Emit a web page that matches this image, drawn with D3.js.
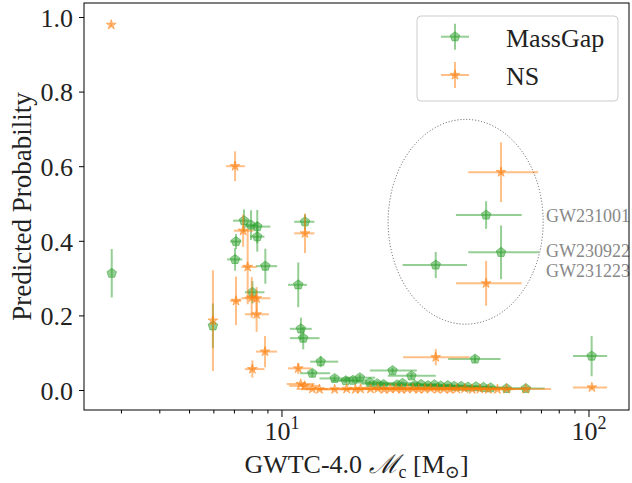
<!DOCTYPE html>
<html lang="en">
<head>
<meta charset="UTF-8">
<title>Predicted probability vs chirp mass</title>
<style>
  body { margin: 0; background: #fff; }
  svg { display: block; }
  text { font-family: "Liberation Serif", "DejaVu Serif", serif; fill: #222; }
</style>
</head>
<body>
<svg width="632" height="483"></svg>
<script src="https://d3js.org/d3.v7.min.js"></script>
<script>
// MassGap (green): chirp mass, lower / upper mass bound, probability, probability error
var mgMc   = [2.80, 5.98, 7.55, 7.96, 8.34, 8.34, 7.11, 7.06, 8.86, 8.04, 11.34, 11.93, 11.57, 11.77, 13.42, 12.6,
              14.9, 16.2, 17.1, 18.0, 19.4, 20.5, 21.5, 23.0, 23.8, 24.8, 26.5, 27.2, 28.5, 30.0, 31.5, 33.0,
              34.8, 36.5, 38.5, 40.5, 43.0, 45.5, 48.0, 54.1, 62.5, 42.7, 102.4, 46.4, 51.9, 31.8];
var mgMcLo = [2.80, 5.98, 6.95, 7.6, 7.6, 7.9, 6.8, 6.65, 8.26, 7.6, 10.5, 11.0, 10.65, 10.65, 12.4, 11.5,
              13.3, 14.5, 15.4, 16.1, 17.2, 18.2, 19.0, 19.4, 21.0, 21.8, 22.2, 24.0, 25.0, 26.4, 27.6, 29.0,
              30.6, 32.0, 33.8, 35.5, 37.8, 40.0, 42.0, 47.0, 54.0, 34.9, 89.0, 37.0, 40.6, 24.8];
var mgMcHi = [2.80, 5.98, 7.9, 8.3, 9.2, 8.8, 7.4, 7.45, 9.68, 8.8, 12.1, 12.8, 12.55, 13.3, 15.3, 14.4,
              16.7, 18.0, 19.0, 20.2, 21.8, 23.0, 24.3, 27.6, 27.0, 28.2, 31.8, 30.8, 32.4, 34.0, 35.8, 37.5,
              39.5, 41.5, 43.8, 46.0, 49.0, 52.0, 55.0, 62.0, 72.0, 51.7, 115.0, 60.6, 69.0, 40.2];
var mgP    = [0.313, 0.172, 0.454, 0.442, 0.438, 0.411, 0.398, 0.350, 0.332, 0.262, 0.282, 0.451, 0.164, 0.139, 0.076, 0.045,
              0.031, 0.025, 0.026, 0.033, 0.020, 0.017, 0.015, 0.052, 0.014, 0.018, 0.038, 0.013, 0.015, 0.012, 0.014, 0.011,
              0.012, 0.010, 0.010, 0.008, 0.009, 0.007, 0.006, 0.004, 0.004, 0.083, 0.091, 0.469, 0.369, 0.335];
var mgPErr = [0.065, 0.060, 0.030, 0.040, 0.045, 0.040, 0.020, 0.030, 0.047, 0.030, 0.060, 0.020, 0.030, 0.030, 0.015, 0.010,
              0.008, 0.006, 0.006, 0.008, 0.005, 0.005, 0.004, 0.008, 0.004, 0.005, 0.008, 0.004, 0.004, 0.004, 0.004, 0.003,
              0.003, 0.003, 0.003, 0.003, 0.003, 0.002, 0.002, 0.002, 0.002, 0.010, 0.054, 0.037, 0.072, 0.035];

// NS (orange)
var nsMc   = [2.79, 5.98, 7.06, 7.5, 11.93, 7.76, 7.11, 8.0, 8.3, 8.3, 8.84, 8.04, 11.34,
              11.55, 11.9, 12.6, 13.3, 14.9, 16.3, 17.4, 18.1, 19.5, 20.6, 21.6, 22.6, 23.6, 24.6, 25.7, 26.8,
              28.0, 29.3, 30.6, 32.2, 33.8, 35.4, 37.2, 39.5, 41.8, 44.3, 47.2, 50.5, 54.1, 62.5, 31.8, 102.6, 51.9, 46.4];
var nsMcLo = [2.79, 5.98, 6.6, 7.0, 11.0, 7.4, 6.8, 7.6, 7.4, 7.6, 8.26, 7.6, 10.5,
              10.4, 10.6, 11.2, 11.8, 13.2, 14.5, 15.5, 16.1, 17.3, 18.3, 19.2, 20.0, 20.9, 21.8, 22.7, 23.7,
              24.7, 25.9, 27.0, 28.4, 29.8, 31.2, 32.8, 34.8, 36.8, 39.0, 41.5, 44.4, 47.6, 55.0, 24.9, 89.0, 40.6, 37.0];
var nsMcHi = [2.79, 5.98, 7.6, 8.1, 12.8, 8.3, 7.4, 8.4, 9.2, 9.1, 9.68, 8.8, 12.5,
              12.8, 13.3, 14.2, 15.0, 16.8, 18.3, 19.5, 20.3, 21.9, 23.1, 24.3, 25.4, 26.6, 27.8, 29.0, 30.3,
              31.7, 33.1, 34.6, 36.4, 38.2, 40.0, 42.0, 44.6, 47.2, 50.0, 53.3, 57.0, 61.1, 75.5, 41.0, 115.0, 68.5, 60.6];
var nsP    = [0.979, 0.186, 0.600, 0.427, 0.420, 0.330, 0.239, 0.248, 0.246, 0.203, 0.103, 0.056, 0.058,
              0.016, 0.011, 0.003, 0.002, 0.002, 0.003, 0.002, 0.003, 0.003, 0.004, 0.002, 0.003, 0.004, 0.002, 0.003, 0.004,
              0.002, 0.003, 0.004, 0.002, 0.003, 0.002, 0.003, 0.004, 0.002, 0.003, 0.002, 0.002, 0.003, 0.003, 0.088, 0.007, 0.584, 0.286];
var nsPErr = [0.004, 0.135, 0.040, 0.043, 0.053, 0.100, 0.065, 0.055, 0.030, 0.047, 0.042, 0.023, 0.015,
              0.004, 0.003, 0.002, 0.001, 0.001, 0.001, 0.001, 0.001, 0.001, 0.001, 0.001, 0.001, 0.001, 0.001, 0.001, 0.001,
              0.001, 0.001, 0.001, 0.001, 0.001, 0.001, 0.001, 0.001, 0.001, 0.001, 0.001, 0.001, 0.001, 0.001, 0.022, 0.004, 0.080, 0.060];

var yTicks = [0.0, 0.2, 0.4, 0.6, 0.8, 1.0];
var xMajor = [10, 100];
var xMinor = [3, 4, 5, 6, 7, 8, 9, 20, 30, 40, 50, 60, 70, 80, 90];
var eventNames = ['GW231001', 'GW230922', 'GW231223'];
var eventLabelP = [0.451, 0.356, 0.304];

var green = '#2ca02c', orange = '#ff7f0e';

var svg = d3.select('svg');
var x = d3.scaleLog().domain([2.274, 135.5]).range([84, 629]);
var y = d3.scaleLinear().domain([-0.0536, 1.0375]).range([410, 3]);

// pentagon marker like matplotlib 'p'
var pentagon = {
  draw: function (ctx, size) {
    var r = Math.sqrt(size / 2.3776);
    for (var i = 0; i < 5; i++) {
      var a = -Math.PI / 2 + i * 2 * Math.PI / 5;
      if (i === 0) ctx.moveTo(r * Math.cos(a), r * Math.sin(a));
      else ctx.lineTo(r * Math.cos(a), r * Math.sin(a));
    }
    ctx.closePath();
  }
};

function zip(mc, lo, hi, p, pe) {
  return mc.map((d, i) => ({ mc: d, lo: lo[i], hi: hi[i], p: p[i], pe: pe[i] }));
}
var massGap = zip(mgMc, mgMcLo, mgMcHi, mgP, mgPErr);
var ns = zip(nsMc, nsMcLo, nsMcHi, nsP, nsPErr);

function drawSeries(data, color, symbol) {
  var g = svg.append('g');
  data.forEach(d => {
    if (d.hi > d.lo) {
      g.append('line')
        .attr('x1', x(d.lo)).attr('x2', x(d.hi))
        .attr('y1', y(d.p)).attr('y2', y(d.p))
        .attr('stroke', color).attr('stroke-opacity', 0.5).attr('stroke-width', 2);
    }
    g.append('line')
      .attr('x1', x(d.mc)).attr('x2', x(d.mc))
      .attr('y1', y(d.p - d.pe)).attr('y2', y(d.p + d.pe))
      .attr('stroke', color).attr('stroke-opacity', 0.5).attr('stroke-width', 2);
  });
  g.selectAll('path.m')
    .data(data)
    .join('path')
    .attr('class', 'm')
    .attr('transform', d => 'translate(' + [x(d.mc), y(d.p)] + ')')
    .attr('d', symbol)
    .attr('fill', color)
    .attr('fill-opacity', 0.5)
    .attr('stroke', color)
    .attr('stroke-opacity', 0.5)
    .attr('stroke-width', 1);
}

drawSeries(massGap, green, d3.symbol().type(pentagon).size(60));
drawSeries(ns, orange, d3.symbol().type(d3.symbolStar).size(30));

// dotted ellipse around the three events
var ecMc = 39.8, ecP = 0.451, eHalfDec = 0.2525, eHalfP = 0.2745;
var ex0 = x(ecMc / Math.pow(10, eHalfDec)), ex1 = x(ecMc * Math.pow(10, eHalfDec));
svg.append('ellipse')
  .attr('cx', (ex0 + ex1) / 2).attr('cy', y(ecP))
  .attr('rx', (ex1 - ex0) / 2).attr('ry', (y(ecP - eHalfP) - y(ecP + eHalfP)) / 2)
  .attr('fill', 'none').attr('stroke', '#555').attr('stroke-width', 1)
  .attr('stroke-dasharray', '1,2');

svg.selectAll('text.ev')
  .data(eventNames)
  .join('text')
  .attr('class', 'ev')
  .attr('x', x(72.2) + 1)
  .attr('y', (d, i) => y(eventLabelP[i]))
  .style('fill', '#888')
  .style('font-size', '18px')
  .text(d => d);

// axes
var yAxis = d3.axisLeft(y).tickValues(yTicks).tickFormat(d3.format('.1f')).tickSize(5).tickPadding(6);
var gy = svg.append('g').attr('transform', 'translate(84,0)').call(yAxis);
gy.select('.domain').remove();
gy.selectAll('text').style('font-size', '26px').attr('dy', '0.36em').style('fill', '#222');

var gxm = svg.append('g').attr('transform', 'translate(0,410)')
  .call(d3.axisBottom(x).tickValues(xMinor).tickSize(3.5).tickFormat(''));
gxm.select('.domain').remove();

var gx = svg.append('g').attr('transform', 'translate(0,410)')
  .call(d3.axisBottom(x).tickValues(xMajor).tickSize(7));
gx.select('.domain').remove();
gx.selectAll('text').each(function (d) {
  var t = d3.select(this).text('').attr('y', 30).attr('dy', 0).style('font-size', '26px').style('fill', '#222');
  t.append('tspan').text('10');
  t.append('tspan').attr('dy', -11).style('font-size', '18px').text(Math.round(Math.log10(d)));
});

// frame
svg.append('rect').attr('x', 84).attr('y', 3).attr('width', 545).attr('height', 407)
  .attr('fill', 'none').attr('stroke', '#000').attr('stroke-width', 1);

// axis labels
var xl = svg.append('text').attr('x', 356.5).attr('y', 473).attr('text-anchor', 'middle').style('font-size', '26px');
xl.append('tspan').text('GWTC-4.0 ');
xl.append('tspan').style('font-style', 'italic').text('ℳ');
xl.append('tspan').attr('dy', 5).style('font-size', '18px').text('c');
xl.append('tspan').attr('dy', -5).text(' [M');
xl.append('tspan').attr('dy', 5).style('font-size', '18px').text('⊙');
xl.append('tspan').attr('dy', -5).text(']');

svg.append('text')
  .attr('transform', 'translate(31,206.5) rotate(-90)')
  .attr('text-anchor', 'middle')
  .style('font-size', '27px')
  .text('Predicted Probability');

// legend
var lg = svg.append('g');
lg.append('rect').attr('x', 417).attr('y', 16).attr('width', 201).attr('height', 85).attr('rx', 4)
  .attr('fill', '#fff').attr('fill-opacity', 0.8).attr('stroke', '#ccc');
[['MassGap', green, pentagon, 60, 36.7], ['NS', orange, d3.symbolStar, 30, 75]].forEach(e => {
  var cy = e[4];
  lg.append('line').attr('x1', 441).attr('x2', 469).attr('y1', cy).attr('y2', cy)
    .attr('stroke', e[1]).attr('stroke-opacity', 0.5).attr('stroke-width', 2);
  lg.append('line').attr('x1', 455).attr('x2', 455).attr('y1', cy - 13).attr('y2', cy + 13)
    .attr('stroke', e[1]).attr('stroke-opacity', 0.5).attr('stroke-width', 2);
  lg.append('path').attr('transform', 'translate(455,' + cy + ')')
    .attr('d', d3.symbol().type(e[2]).size(e[3])())
    .attr('fill', e[1]).attr('fill-opacity', 0.5)
    .attr('stroke', e[1]).attr('stroke-opacity', 0.5).attr('stroke-width', 1);
  lg.append('text').attr('x', 506).attr('y', cy + 10).style('font-size', '26px').text(e[0]);
});
</script>
</body>
</html>
